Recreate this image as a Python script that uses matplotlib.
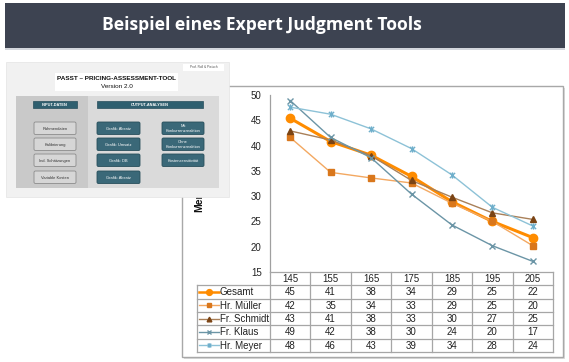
import matplotlib
matplotlib.use('Agg')
import matplotlib.pyplot as plt
from matplotlib.patches import Rectangle, FancyBboxPatch
from matplotlib.path import Path
from matplotlib.lines import Line2D

# ---------------- data ----------------
title = "Beispiel eines Expert Judgment Tools"
prices = [145, 155, 165, 175, 185, 195, 205]
series_names = ["Gesamt", "Hr. Müller", "Fr. Schmidt", "Fr. Klaus", "Hr. Meyer"]
gesamt = [45.4, 40.8, 38.1, 33.9, 28.9, 25.0, 21.8]
mueller = [41.6, 34.7, 33.6, 32.6, 28.6, 25.0, 20.2]
schmidt = [42.9, 41.1, 38.0, 33.1, 29.8, 26.7, 25.4]
klaus = [48.9, 41.6, 37.6, 30.4, 24.3, 20.2, 17.1]
meyer = [47.6, 46.2, 43.3, 39.4, 34.2, 27.8, 24.1]
y_ticks = [15, 20, 25, 30, 35, 40, 45, 50]
y_label = "Menge"

tool_title = "PASST – PRICING-ASSESSMENT-TOOL"
tool_version = "Version 2.0"
tool_author = "Prof. Roll & Pietsch"
input_header = "INPUT-DATEN"
output_header = "OUTPUT-ANALYSEN"
input_buttons = ["Rahmendaten", "Kalibrierung", "Ind. Schätzungen", "Variable Kosten"]
output_col1 = ["Grafik: Absatz", "Grafik: Umsatz", "Grafik: DB", "Grafik: Absatz"]
output_col2 = ["Mit\nKonkurrenzreaktion", "Ohne\nKonkurrenzreaktion", "Kostensensitivität"]

# ---------------- layout ----------------
W, H = 569, 362
FONT = ['Liberation Sans', 'DejaVu Sans']
plt.rcParams['font.family'] = FONT

fig = plt.figure(figsize=(W / 100, H / 100), dpi=100)
fig.patch.set_facecolor('white')


def px(x0, y0, x1, y1):
    return [x0 / W, 1 - y1 / H, (x1 - x0) / W, (y1 - y0) / H]


def pixel_axes(z):
    a = fig.add_axes([0, 0, 1, 1])
    a.set_xlim(0, W)
    a.set_ylim(H, 0)
    a.axis('off')
    a.patch.set_alpha(0)
    a.set_zorder(z)
    return a


# background: banner + chart frame
bg = pixel_axes(0)
bg.add_patch(Rectangle((5, 3), 560, 45, facecolor='#3d4351', edgecolor='none'))
bg.add_patch(Rectangle((5, 48), 560, 1.5, facecolor='#d3d6dc', edgecolor='none'))
bg.text(262, 25.5, title, color='white', fontsize=12.6, fontweight='bold',
        family=['Open Sans', 'DejaVu Sans'], ha='center', va='center')
bg.add_patch(Rectangle((184, 88), 381, 271, facecolor='#dcdcdc', edgecolor='none'))
bg.add_patch(Rectangle((182, 86), 381, 271, facecolor='white', edgecolor='#a8a8a8', lw=1))
bg.text(199, 212, y_label, rotation=90, fontsize=7.5, fontweight='bold',
        ha='center', va='bottom', color='#111111')

# ---------------- main chart ----------------
COL_L, COL_R = 270, 553
AX_T, AX_B = 95, 272
ax = fig.add_axes(px(COL_L, AX_T, COL_R, AX_B))
ax.set_zorder(2)
ax.patch.set_alpha(0)
xs = list(range(len(prices)))
ax.set_xlim(-0.5, len(prices) - 0.5)
ax.set_ylim(min(y_ticks), max(y_ticks))
ax.set_yticks(y_ticks)
ax.set_xticks([])
for s in ['top', 'right', 'bottom']:
    ax.spines[s].set_visible(False)
ax.spines['left'].set_color('#a0a0a0')
ax.spines['left'].set_linewidth(0.9)
ax.tick_params(axis='y', length=0, pad=6, labelsize=7, labelcolor='#222222')

star = Path([(-1, -1), (1, 1), (-1, 1), (1, -1), (0, -1.2), (0, 1.2)],
            [Path.MOVETO, Path.LINETO, Path.MOVETO, Path.LINETO, Path.MOVETO, Path.LINETO])

styles = [
    dict(color='#FF8C00', lw=2.2, marker='o', ms=6, mfc='#FF8C00', mec='#FF8C00', mew=1),
    dict(color='#F3A861', lw=1.0, marker='s', ms=4.5, mfc='#D9771C', mec='#D9771C', mew=1),
    dict(color='#A98059', lw=1.0, marker='^', ms=4.8, mfc='#7B4414', mec='#7B4414', mew=1),
    dict(color='#6B95A6', lw=1.0, marker='x', ms=4.5, mfc='#6B95A6', mec='#6B95A6', mew=1),
    dict(color='#8DC2D7', lw=1.0, marker=star, ms=4.5, mfc='#6FAFCB', mec='#6FAFCB', mew=1),
]
all_series = [gesamt, mueller, schmidt, klaus, meyer]
for vals, st in zip(all_series, styles):
    ax.plot(xs, vals, clip_on=False, **st)

# ---------------- data table ----------------
TAB_L = 197
ROW_H = 13.3
n_rows = len(series_names) + 1
TAB_B = AX_B + ROW_H * n_rows
tab = fig.add_axes(px(TAB_L, AX_B, COL_R, TAB_B))
tab.set_zorder(2)
tab.patch.set_alpha(0)
tab.set_xlim(TAB_L, COL_R)
tab.set_ylim(TAB_B, AX_B)
tab.axis('off')
colw = (COL_R - COL_L) / len(prices)
gc = '#a6a6a6'
tab.plot([COL_L, COL_R], [AX_B, AX_B], color=gc, lw=0.9, clip_on=False)
for r in range(1, n_rows + 1):
    y = AX_B + r * ROW_H
    tab.plot([TAB_L, COL_R], [y, y], color=gc, lw=0.9, clip_on=False)
tab.plot([TAB_L, TAB_L], [AX_B + ROW_H, TAB_B], color=gc, lw=0.9, clip_on=False)
for c in range(len(prices) + 1):
    x = COL_L + c * colw
    tab.plot([x, x], [AX_B, TAB_B], color=gc, lw=0.9, clip_on=False)
for c, p in enumerate(prices):
    tab.text(COL_L + (c + 0.5) * colw, AX_B + 0.55 * ROW_H, str(p), ha='center', va='center',
             fontsize=7, color='#222222')
for r, (name, vals, st) in enumerate(zip(series_names, all_series, styles), start=1):
    yc = AX_B + (r + 0.5) * ROW_H
    lw = min(st['lw'], 1.8)
    tab.add_line(Line2D([TAB_L + 2, TAB_L + 22], [yc, yc], color=st['color'], lw=lw))
    tab.add_line(Line2D([TAB_L + 12], [yc], marker=st['marker'], ms=st['ms'] * 0.7,
                        mfc=st['mfc'], mec=st['mec'], mew=st['mew'], lw=0))
    tab.text(TAB_L + 23, yc + 0.5, name, ha='left', va='center', fontsize=7, color='#222222')
    for c, v in enumerate(vals):
        tab.text(COL_L + (c + 0.5) * colw, yc + 0.5, f"{v:.0f}", ha='center', va='center',
                 fontsize=7, color='#222222')

# ---------------- tool screenshot (overlay) ----------------
ov = pixel_axes(5)
ov.add_patch(Rectangle((6, 62), 223, 135, facecolor='#f1f1f1', edgecolor='#e4e4e4', lw=0.5))
ov.add_patch(Rectangle((183, 64), 41, 7, facecolor='white', edgecolor='none'))
ov.text(203.5, 67.5, tool_author, fontsize=2.3, ha='center', va='center', color='#555555')
ov.add_patch(Rectangle((55, 73), 123, 18, facecolor='white', edgecolor='none'))
ov.text(116.5, 79, tool_title, fontsize=4.6, fontweight='bold', ha='center', va='center', color='#111111')
ov.text(116.5, 86.5, tool_version, fontsize=4.6, ha='center', va='center', color='#111111')
ov.add_patch(Rectangle((16, 96), 72, 92, facecolor='#c9c9c9', edgecolor='none'))
ov.add_patch(Rectangle((88, 96), 131, 92, facecolor='#dadada', edgecolor='none'))

teal, teal_edge = '#3a6878', '#274e5b'
ov.add_patch(Rectangle((33, 101), 44, 7, facecolor='#2f5f6f', edgecolor=teal_edge, lw=0.5))
ov.text(55, 104.6, input_header, fontsize=2.8, fontweight='bold', color='white', ha='center', va='center')
ov.add_patch(Rectangle((97, 101), 106, 7, facecolor='#2f5f6f', edgecolor=teal_edge, lw=0.5))
ov.text(150, 104.6, output_header, fontsize=2.8, fontweight='bold', color='white', ha='center', va='center')

tops = [122, 138, 154, 171]
BH = 12.5


def button(x0, x1, y0, label, fc, ec, tc):
    ov.add_patch(FancyBboxPatch((x0, y0), x1 - x0, BH, boxstyle="round,pad=0,rounding_size=1.5",
                                facecolor=fc, edgecolor=ec, lw=0.6))
    ov.text((x0 + x1) / 2, y0 + BH / 2 + 0.3, label, fontsize=2.9, color=tc, ha='center', va='center',
            linespacing=1.1)


for t, lab in zip(tops, input_buttons):
    button(34, 76, t, lab, '#d6d6d6', '#8c8c8c', '#333333')
for t, lab in zip(tops, output_col1):
    button(97, 140, t, lab, teal, teal_edge, 'white')
for t, lab in zip(tops, output_col2):
    button(162, 204, t, lab, teal, teal_edge, 'white')

fig.savefig('out.png', dpi=100, facecolor='white')
